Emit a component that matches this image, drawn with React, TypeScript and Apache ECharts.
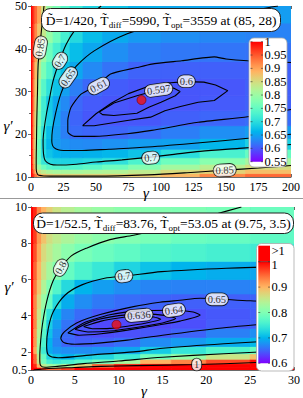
import React, { useEffect, useRef } from 'react';
import * as echarts from 'echarts';

// ---------- TOP PANEL DATA (D = 1/420) ----------
const TOP_X_EDGES = [0, 1.5, 3, 5, 8, 12, 17, 23, 30, 40, 55, 75, 100, 130, 165, 200];
const TOP_Y_EDGES = [10, 10.8, 11.8, 13, 14.5, 16.5, 19, 22, 25.5, 29, 33, 37, 41.5, 46, 50];
const TOP_VALUES = [
  [1.0, 0.97, 0.93, 0.9, 0.88, 0.87, 0.865, 0.865, 0.865, 0.865, 0.865, 0.87, 0.885, 0.92, 0.94],
  [1.0, 0.94, 0.89, 0.85, 0.83, 0.815, 0.81, 0.81, 0.81, 0.815, 0.82, 0.83, 0.852, 0.862, 0.88],
  [1.0, 0.92, 0.855, 0.8, 0.76, 0.74, 0.735, 0.735, 0.735, 0.745, 0.76, 0.78, 0.805, 0.826, 0.85],
  [1.0, 0.91, 0.84, 0.76, 0.71, 0.695, 0.69, 0.69, 0.69, 0.695, 0.705, 0.73, 0.76, 0.783, 0.808],
  [1.0, 0.91, 0.84, 0.755, 0.695, 0.675, 0.662, 0.658, 0.657, 0.66, 0.665, 0.675, 0.7, 0.728, 0.753],
  [1.0, 0.91, 0.845, 0.76, 0.695, 0.665, 0.645, 0.637, 0.633, 0.632, 0.637, 0.645, 0.648, 0.665, 0.687],
  [1.0, 0.92, 0.85, 0.77, 0.705, 0.67, 0.645, 0.625, 0.612, 0.609, 0.609, 0.614, 0.624, 0.635, 0.645],
  [1.0, 0.92, 0.855, 0.78, 0.72, 0.685, 0.65, 0.625, 0.608, 0.6, 0.599, 0.6, 0.605, 0.609, 0.613],
  [1.0, 0.93, 0.86, 0.79, 0.72, 0.68, 0.653, 0.632, 0.61, 0.602, 0.599, 0.596, 0.599, 0.602, 0.606],
  [1.0, 0.93, 0.87, 0.8, 0.74, 0.705, 0.675, 0.647, 0.625, 0.61, 0.603, 0.5995, 0.5995, 0.6, 0.605],
  [1.0, 0.94, 0.88, 0.83, 0.77, 0.735, 0.695, 0.67, 0.652, 0.632, 0.617, 0.607, 0.606, 0.605, 0.606],
  [1.0, 0.95, 0.9, 0.845, 0.8, 0.76, 0.725, 0.695, 0.67, 0.652, 0.635, 0.625, 0.62, 0.618, 0.617],
  [1.0, 0.96, 0.92, 0.875, 0.835, 0.795, 0.76, 0.725, 0.695, 0.67, 0.655, 0.643, 0.635, 0.63, 0.627],
  [1.0, 0.97, 0.94, 0.9, 0.85, 0.8, 0.77, 0.74, 0.715, 0.69, 0.675, 0.66, 0.652, 0.648, 0.645],
];
const TOP_C085 = [[10, 50], [8, 44.2], [6.8, 40.3], [5.5, 36.4], [5, 30], [4.5, 24], [4.2, 18], [4, 14], [4, 12], [4.6, 10.9], [6, 10.4], [15, 10.2], [50, 10.2], [90, 10.5], [120, 11], [149, 11.6], [175, 12.1], [200, 12.7]];
const TOP_C070 = [[54, 50], [42, 47], [33, 44], [27, 41], [22, 37.2], [17, 32.5], [14, 28], [11.9, 24.8], [10, 21], [9.3, 18.5], [9.6, 15.5], [11, 13.8], [15, 13], [20, 12.8], [35, 13], [50, 13.5], [70, 14], [90, 14.6], [110, 15.3], [130, 16], [160, 16.7], [200, 17.6]];
const TOP_C065 = [[190, 50], [160, 48.5], [130, 47.3], [100, 45.7], [74, 43.5], [48.6, 39.5], [35, 36], [28.6, 33.3], [23, 29.5], [19, 25], [16.5, 21], [16, 18.5], [18, 16.8], [25, 16.2], [40, 16.2], [60, 16.5], [90, 17], [130, 18], [165, 19], [200, 20]];
const TOP_C061 = [[200, 36.8], [166.6, 37.2], [150, 37.6], [141, 38.1], [116, 37.2], [92.9, 36.4], [81.5, 35.6], [61.2, 34.1], [51.5, 31.5], [38.5, 29.4], [30.8, 26.3], [28.3, 23.2], [28.3, 20.5], [33.4, 19.5], [48.6, 19.5], [74, 20.1], [92.9, 20.9], [128.6, 22.8], [166.6, 24.1], [200, 25.8]];
const TOP_C060 = [[39.7, 22], [50, 24.8], [62, 27.3], [75, 29.5], [92, 31.4], [105, 32], [118.5, 32.3], [133, 32.2], [142, 31.5], [151.4, 30.2], [141, 27.9], [128.6, 27.5], [115, 26.5], [103, 25.5], [92, 24], [74, 23.2], [48.6, 22], [39.7, 22]];
const TOP_C0597 = [[52.4, 25.2], [63.8, 27.3], [81.5, 29], [98, 30.4], [109.6, 30.8], [114.7, 30], [111, 29], [100, 27.5], [90.6, 26.3], [81.5, 24.9], [63.8, 24.4], [55, 24.6], [52.4, 25.2]];
const TOP_LABELS = [
  { name: '0.85', x: 7.1, y: 40.3, rot: 80 },
  { name: '0.7', x: 22.3, y: 37.2, rot: 58 },
  { name: '0.65', x: 28.6, y: 33.3, rot: 55 },
  { name: '0.61', x: 52, y: 31.3, rot: 28 },
  { name: '0.597', x: 98.2, y: 30.4, rot: 8 },
  { name: '0.6', x: 119.5, y: 32.4, rot: 0 },
  { name: '0.7', x: 92, y: 14.5, rot: 5 },
  { name: '0.85', x: 149, y: 11.6, rot: 3 },
];
const TOP_OPT = [85, 28];
const TOP_BAR_TICKS = [0.55, 0.6, 0.65, 0.7, 0.75, 0.8, 0.85, 0.9, 0.95, 1];

// ---------- BOTTOM PANEL DATA (D = 1/52.5) ----------
const BOT_X_EDGES = [0, 0.3, 0.7, 1.2, 1.8, 2.5, 3.5, 5, 7, 9.5, 12.5, 16, 20, 25, 30];
const BOT_Y_EDGES = [1, 1.15, 1.35, 1.6, 1.9, 2.3, 2.8, 3.3, 3.8, 4.4, 5.2, 6, 7, 8, 9, 10];
const BOT_VALUES = [
  [1.1, 1.05, 1.0, 0.97, 0.95, 0.95, 0.97, 1.02, 1.05, 1.06, 1.08, 1.1, 1.1, 1.1],
  [1.1, 0.98, 0.9, 0.85, 0.83, 0.82, 0.84, 0.88, 0.95, 0.99, 1.01, 1.02, 1.04, 1.06],
  [1.1, 0.95, 0.85, 0.79, 0.755, 0.745, 0.755, 0.77, 0.79, 0.83, 0.9, 0.93, 0.963, 0.995],
  [1.1, 0.95, 0.85, 0.78, 0.725, 0.71, 0.7, 0.718, 0.727, 0.749, 0.79, 0.82, 0.858, 0.89],
  [1.1, 0.91, 0.82, 0.75, 0.695, 0.68, 0.675, 0.675, 0.68, 0.69, 0.717, 0.743, 0.764, 0.783],
  [1.1, 0.92, 0.83, 0.76, 0.7, 0.67, 0.652, 0.648, 0.65, 0.657, 0.674, 0.683, 0.694, 0.703],
  [1.1, 0.92, 0.84, 0.77, 0.71, 0.675, 0.655, 0.642, 0.639, 0.641, 0.645, 0.651, 0.667, 0.676],
  [1.1, 0.93, 0.85, 0.78, 0.72, 0.685, 0.66, 0.643, 0.637, 0.6365, 0.637, 0.64, 0.647, 0.65],
  [1.1, 0.93, 0.86, 0.8, 0.74, 0.7, 0.67, 0.655, 0.645, 0.639, 0.638, 0.641, 0.645, 0.648],
  [1.1, 0.93, 0.87, 0.82, 0.78, 0.73, 0.695, 0.675, 0.663, 0.656, 0.652, 0.649, 0.649, 0.651],
  [1.1, 0.94, 0.89, 0.84, 0.8, 0.765, 0.73, 0.7, 0.685, 0.675, 0.67, 0.668, 0.668, 0.67],
  [1.1, 0.95, 0.9, 0.86, 0.83, 0.805, 0.78, 0.76, 0.745, 0.725, 0.71, 0.7, 0.695, 0.69],
  [1.1, 0.96, 0.91, 0.87, 0.85, 0.83, 0.81, 0.795, 0.785, 0.775, 0.765, 0.76, 0.755, 0.75],
  [1.1, 0.97, 0.92, 0.89, 0.865, 0.85, 0.835, 0.82, 0.81, 0.802, 0.795, 0.785, 0.78, 0.775],
  [1.1, 0.98, 0.93, 0.9, 0.88, 0.86, 0.845, 0.83, 0.82, 0.81, 0.805, 0.8, 0.795, 0.785],
];
const BOT_C1 = [[0.3, 1.0], [2, 1.08], [5, 1.14], [8, 1.2], [12, 1.24], [19, 1.3], [25, 1.4], [30, 1.49]];
const BOT_C08 = [[24, 10], [21, 9.6], [18, 9.2], [15, 8.8], [11.7, 8.44], [9, 8.2], [6.4, 7.74], [4.6, 7.3], [3.4, 6.63], [2.5, 5.9], [1.8, 4.8], [1.3, 3.5], [1.05, 2.3], [1.0, 1.6], [1.1, 1.25], [1.6, 1.15], [3, 1.2], [6, 1.35], [10, 1.5], [15, 1.7], [22, 1.9], [30, 2.07]];
const BOT_C07 = [[30, 6.72], [22.3, 6.62], [14.9, 6.43], [10.9, 6.19], [8.4, 6.07], [5.8, 5.7], [3.9, 5.14], [2.54, 4.22], [1.97, 3.3], [1.78, 2.39], [1.97, 1.83], [3.1, 1.68], [7.3, 1.85], [11.7, 2.0], [15, 2.2], [22, 2.45], [30, 2.67]];
const BOT_C065 = [[30, 4.75], [25, 4.82], [19.3, 4.96], [17, 4.85], [14.7, 4.74], [11.7, 4.5], [7.9, 4.06], [5.2, 3.6], [3.8, 3.1], [3.4, 2.75], [3.8, 2.5], [5, 2.42], [8, 2.5], [11, 2.65], [15, 2.92], [22.3, 3.35], [30, 3.65]];
const BOT_C064 = [[4.2, 3.05], [6, 3.6], [9, 4.05], [12, 4.25], [16.4, 4.3], [18.5, 4.2], [19.3, 4.03], [17, 3.7], [14.7, 3.5], [11, 3.2], [8, 3.0], [5.5, 2.92], [4.2, 3.05]];
const BOT_C0638 = [[5, 3.25], [7, 3.7], [10, 4.0], [13, 4.1], [15.5, 4.0], [16.5, 3.85], [15, 3.6], [12, 3.35], [9, 3.15], [6.5, 3.1], [5, 3.25]];
const BOT_C0636 = [[6, 3.4], [8, 3.7], [10, 3.87], [12.3, 3.98], [14, 3.93], [14.8, 3.8], [13, 3.58], [11, 3.42], [9, 3.3], [7, 3.28], [6, 3.4]];
const BOT_LABELS = [
  { name: '0.8', x: 3.4, y: 6.65, rot: 62 },
  { name: '0.7', x: 10.6, y: 6.18, rot: 8 },
  { name: '0.65', x: 21.2, y: 4.9, rot: 0 },
  { name: '0.64', x: 16.3, y: 4.3, rot: 8 },
  { name: '0.636', x: 12.3, y: 4.02, rot: 5 },
  { name: '1', x: 18.9, y: 1.3, rot: 0 },
];
const BOT_OPT = [9.75, 3.5];
const BOT_Y_TICKS = [1, 2, 4, 6, 8, 10];
const BOT_Y_TICK_LABELS = ['0.5', '2', '4', '6', '8', '10'];
const BOT_BAR_TICKS = [0.6, 0.7, 0.8, 0.9, 1];

const SERIF = '"Liberation Serif", "Times New Roman", serif';

function rainbow(t: number): string {
  const x = Math.max(0, Math.min(1, t));
  const r = Math.min(1, Math.abs(2 * x - 0.5));
  const g = Math.sin(Math.PI * x);
  const b = Math.cos((Math.PI * x) / 2);
  return `rgb(${Math.round(r * 255)},${Math.round(g * 255)},${Math.round(b * 255)})`;
}

function cells(xe: number[], ye: number[], vals: number[][]) {
  const out: number[][] = [];
  for (let r = 0; r < ye.length - 1; r++) {
    for (let c = 0; c < xe.length - 1; c++) {
      out.push([xe[c], xe[c + 1], ye[r], ye[r + 1], vals[r][c]]);
    }
  }
  return out;
}

function heatSeries(data: number[][], xi: number, yi: number, vmin: number, vmax: number) {
  return {
    type: 'custom',
    xAxisIndex: xi,
    yAxisIndex: yi,
    silent: true,
    clip: true,
    z: 1,
    encode: { x: [0, 1], y: [2, 3] },
    data,
    renderItem: (params: any, api: any) => {
      const p0 = api.coord([api.value(0), api.value(3)]);
      const p1 = api.coord([api.value(1), api.value(2)]);
      const col = rainbow((api.value(4) - vmin) / (vmax - vmin));
      return {
        type: 'rect',
        shape: { x: p0[0], y: p0[1], width: p1[0] - p0[0], height: p1[1] - p0[1] },
        style: { fill: col, stroke: col, lineWidth: 0.8 },
      };
    },
  };
}

function contour(data: number[][], xi: number, yi: number, smooth: number | boolean) {
  return {
    type: 'line',
    xAxisIndex: xi,
    yAxisIndex: yi,
    data,
    symbol: 'none',
    smooth,
    silent: true,
    z: 5,
    lineStyle: { color: '#000', width: 1.1 },
  };
}

function labelSeries(items: { name: string; x: number; y: number; rot: number }[], xi: number, yi: number) {
  return {
    type: 'scatter',
    xAxisIndex: xi,
    yAxisIndex: yi,
    silent: true,
    z: 10,
    symbolSize: 1,
    itemStyle: { color: 'rgba(0,0,0,0)' },
    data: items.map((d) => ({ name: d.name, value: [d.x, d.y], label: { rotate: d.rot } })),
    label: {
      show: true,
      position: 'inside',
      formatter: (p: any) => p.name,
      fontFamily: SERIF,
      fontSize: 10.5,
      color: '#000',
      backgroundColor: '#fff',
      borderColor: '#000',
      borderWidth: 0.8,
      borderRadius: 6,
      padding: [1, 2, 0, 2],
    },
  };
}

function dotSeries(pt: number[], xi: number, yi: number) {
  return {
    type: 'scatter',
    xAxisIndex: xi,
    yAxisIndex: yi,
    silent: true,
    z: 12,
    symbolSize: 9,
    itemStyle: { color: '#f01010', borderColor: '#700', borderWidth: 0.8 },
    data: [pt],
  };
}

const axisFont = { fontFamily: SERIF, fontSize: 12, color: '#000' };
const lineStyle = { color: '#444', width: 0.8 };

function mainX(gi: number, min: number, max: number, interval: number) {
  return {
    gridIndex: gi, type: 'value', min, max, interval, position: 'bottom',
    axisLine: { show: true, lineStyle },
    axisTick: { show: true, inside: true, length: 3, lineStyle },
    minorTick: { show: true, splitNumber: 2, length: 2, lineStyle },
    axisLabel: { ...axisFont, margin: 4 },
    splitLine: { show: false },
  };
}
function mirrorX(gi: number, min: number, max: number, interval: number) {
  return {
    gridIndex: gi, type: 'value', min, max, interval, position: 'top',
    axisLine: { show: true, lineStyle },
    axisTick: { show: true, inside: true, length: 3, lineStyle },
    minorTick: { show: true, splitNumber: 2, length: 2, lineStyle },
    axisLabel: { show: false },
    splitLine: { show: false },
  };
}

function colorBar(x: number, yTop: number, w: number, h: number) {
  const stops = [];
  for (let i = 0; i <= 20; i++) stops.push({ offset: i / 20, color: rainbow(i / 20) });
  return {
    type: 'rect', z: 101,
    shape: { x, y: yTop, width: w, height: h },
    style: { fill: new echarts.graphic.LinearGradient(0, 1, 0, 0, stops) },
  };
}

export default function App() {
  const ref = useRef<HTMLDivElement>(null);
  useEffect(() => {
    if (!ref.current) return;
    const chart = echarts.init(ref.current, null, { renderer: 'svg' });

    // colorbar geometry (layout)
    const tb = { x: 250.5, top: 41.7, w: 12.5, h: 120 };
    const bb = { x: 258.3, top: 261.7, w: 11.7, h: 101.6, redTop: 245.7 };
    const graphics: any[] = [];
    // divider between panels
    graphics.push({ type: 'line', z: 100, shape: { x1: 0, y1: 198.5, x2: 303, y2: 198.5 }, style: { stroke: '#999', lineWidth: 1 } });
    // annotation boxes
    graphics.push({ type: 'rect', z: 100, shape: { x: 41.5, y: 8.5, width: 239, height: 23, r: 9 }, style: { fill: '#fff', stroke: '#222', lineWidth: 1 } });
    graphics.push({
      type: 'text', z: 101, x: 161, y: 20,
      style: {
        text: '{n|D\u0303=1/420, T\u0303}{s|diff}{n|=5990, T\u0303}{s|opt}{n|=3559 at (85, 28)}',
        align: 'center', verticalAlign: 'middle', textAlign: 'center', textVerticalAlign: 'middle',
        rich: {
          n: { fontFamily: SERIF, fontSize: 13.5, lineHeight: 18, fill: '#000', color: '#000' },
          s: { fontFamily: SERIF, fontSize: 9, lineHeight: 10, verticalAlign: 'bottom', fill: '#000', color: '#000' },
        },
      },
    });
    graphics.push({ type: 'rect', z: 100, shape: { x: 33.5, y: 213, width: 260, height: 20.5, r: 9 }, style: { fill: '#fff', stroke: '#222', lineWidth: 1 } });
    graphics.push({
      type: 'text', z: 101, x: 163.5, y: 223.5,
      style: {
        text: '{n|D\u0303=1/52.5, T\u0303}{s|diff}{n|=83.76, T\u0303}{s|opt}{n|=53.05 at (9.75, 3.5)}',
        align: 'center', verticalAlign: 'middle', textAlign: 'center', textVerticalAlign: 'middle',
        rich: {
          n: { fontFamily: SERIF, fontSize: 13.5, lineHeight: 18, fill: '#000', color: '#000' },
          s: { fontFamily: SERIF, fontSize: 9, lineHeight: 10, verticalAlign: 'bottom', fill: '#000', color: '#000' },
        },
      },
    });
    // top colour bar
    graphics.push({ type: 'rect', z: 100, shape: { x: 249, y: 38, width: 38, height: 129, r: 5 }, style: { fill: '#fff', stroke: '#aaa', lineWidth: 0.8 } });
    graphics.push(colorBar(tb.x, tb.top, tb.w, tb.h));
    TOP_BAR_TICKS.forEach((v) => {
      const y = tb.top + tb.h - ((v - 0.55) / 0.45) * tb.h;
      graphics.push({ type: 'line', z: 102, shape: { x1: tb.x, y1: y, x2: tb.x + 2, y2: y }, style: { stroke: '#333', lineWidth: 0.6 } });
      graphics.push({ type: 'line', z: 102, shape: { x1: tb.x + tb.w - 2, y1: y, x2: tb.x + tb.w, y2: y }, style: { stroke: '#333', lineWidth: 0.6 } });
      graphics.push({ type: 'text', z: 102, x: tb.x + tb.w + 1.5, y, style: { text: String(v), font: `12.5px ${SERIF}`, fill: '#000', align: 'left', verticalAlign: 'middle', textAlign: 'left', textVerticalAlign: 'middle' } });
    });
    // bottom colour bar
    graphics.push({ type: 'rect', z: 100, shape: { x: 256.5, y: 243.5, width: 37.5, height: 127.5, r: 5 }, style: { fill: '#fff', stroke: '#aaa', lineWidth: 0.8 } });
    graphics.push({ type: 'rect', z: 101, shape: { x: bb.x, y: bb.redTop, width: bb.w, height: bb.top - bb.redTop }, style: { fill: 'rgb(255,0,0)' } });
    graphics.push(colorBar(bb.x, bb.top, bb.w, bb.h));
    graphics.push({ type: 'line', z: 102, shape: { x1: bb.x, y1: bb.top, x2: bb.x + bb.w, y2: bb.top }, style: { stroke: '#333', lineWidth: 0.6 } });
    graphics.push({ type: 'text', z: 102, x: bb.x + bb.w + 1.5, y: bb.redTop + 5.5, style: { text: '>1', font: `12.5px ${SERIF}`, fill: '#000', align: 'left', verticalAlign: 'middle', textAlign: 'left', textVerticalAlign: 'middle' } });
    BOT_BAR_TICKS.forEach((v) => {
      const y = bb.top + bb.h - ((v - 0.6) / 0.4) * bb.h;
      graphics.push({ type: 'line', z: 102, shape: { x1: bb.x, y1: y, x2: bb.x + 2, y2: y }, style: { stroke: '#333', lineWidth: 0.6 } });
      graphics.push({ type: 'line', z: 102, shape: { x1: bb.x + bb.w - 2, y1: y, x2: bb.x + bb.w, y2: y }, style: { stroke: '#333', lineWidth: 0.6 } });
      graphics.push({ type: 'text', z: 102, x: bb.x + bb.w + 1.5, y: y + (v === 1 ? 3 : 0), style: { text: String(v), font: `12.5px ${SERIF}`, fill: '#000', align: 'left', verticalAlign: 'middle', textAlign: 'left', textVerticalAlign: 'middle' } });
    });
    // axis names
    const nameStyle = (t: string) => ({ text: t, font: `italic 15px ${SERIF}`, fill: '#000', align: 'center', verticalAlign: 'middle', textAlign: 'center', textVerticalAlign: 'middle' });
    graphics.push({ type: 'text', z: 100, x: 146, y: 193, style: nameStyle('\u03b3') });
    graphics.push({ type: 'text', z: 100, x: 8, y: 126, style: nameStyle('\u03b3\u2032') });
    graphics.push({ type: 'text', z: 100, x: 144, y: 391, style: nameStyle('\u03b3') });
    graphics.push({ type: 'text', z: 100, x: 9, y: 287, style: nameStyle('\u03b3\u2032') });

    const option: any = {
      animation: false,
      backgroundColor: '#fff',
      grid: [
        { left: 31, top: 5, width: 263, height: 172 },
        { left: 31, top: 207, width: 263, height: 163 },
      ],
      xAxis: [
        mainX(0, 0, 200, 25),
        mirrorX(0, 0, 200, 25),
        mainX(1, 0, 30, 5),
        mirrorX(1, 0, 30, 5),
      ],
      yAxis: [
        {
          gridIndex: 0, type: 'value', min: 10, max: 50, interval: 10, position: 'left',
          axisLine: { show: true, lineStyle }, axisTick: { show: true, inside: true, length: 3, lineStyle },
          minorTick: { show: true, splitNumber: 2, length: 2, lineStyle },
          axisLabel: { ...axisFont, margin: 4 }, splitLine: { show: false },
        },
        {
          gridIndex: 0, type: 'value', min: 10, max: 50, interval: 10, position: 'right',
          axisLine: { show: true, lineStyle }, axisTick: { show: true, inside: true, length: 3, lineStyle },
          minorTick: { show: true, splitNumber: 2, length: 2, lineStyle },
          axisLabel: { show: false }, splitLine: { show: false },
        },
        {
          gridIndex: 1, type: 'value', min: 1, max: 10, position: 'left',
          axisLine: { show: true, lineStyle },
          axisTick: { show: true, inside: true, length: 3, lineStyle, customValues: BOT_Y_TICKS },
          axisLabel: {
            ...axisFont, margin: 4, customValues: BOT_Y_TICKS,
            formatter: (v: number) => BOT_Y_TICK_LABELS[BOT_Y_TICKS.indexOf(v)] ?? String(v),
          },
          splitLine: { show: false },
        },
        {
          gridIndex: 1, type: 'value', min: 1, max: 10, position: 'right',
          axisLine: { show: true, lineStyle },
          axisTick: { show: true, inside: true, length: 3, lineStyle, customValues: BOT_Y_TICKS },
          axisLabel: { show: false, customValues: BOT_Y_TICKS }, splitLine: { show: false },
        },
      ],
      series: [
        heatSeries(cells(TOP_X_EDGES, TOP_Y_EDGES, TOP_VALUES), 0, 0, 0.55, 1),
        contour(TOP_C085, 0, 0, 0.3),
        contour(TOP_C070, 0, 0, 0.3),
        contour(TOP_C065, 0, 0, 0.3),
        contour(TOP_C061, 0, 0, 0.2),
        contour(TOP_C060, 0, 0, false),
        contour(TOP_C0597, 0, 0, false),
        labelSeries(TOP_LABELS, 0, 0),
        dotSeries(TOP_OPT, 0, 0),
        heatSeries(cells(BOT_X_EDGES, BOT_Y_EDGES, BOT_VALUES), 2, 2, 0.6, 1),
        contour(BOT_C1, 2, 2, 0.3),
        contour(BOT_C08, 2, 2, 0.3),
        contour(BOT_C07, 2, 2, 0.3),
        contour(BOT_C065, 2, 2, 0.3),
        contour(BOT_C064, 2, 2, 0.2),
        contour(BOT_C0638, 2, 2, 0.2),
        contour(BOT_C0636, 2, 2, 0.2),
        labelSeries(BOT_LABELS, 2, 2),
        dotSeries(BOT_OPT, 2, 2),
      ],
      graphic: { elements: graphics },
    };
    chart.setOption(option);
    return () => chart.dispose();
  }, []);
  return <div ref={ref} style={{ position: 'absolute', left: 0, top: 0, width: 303, height: 398 }} />;
}
